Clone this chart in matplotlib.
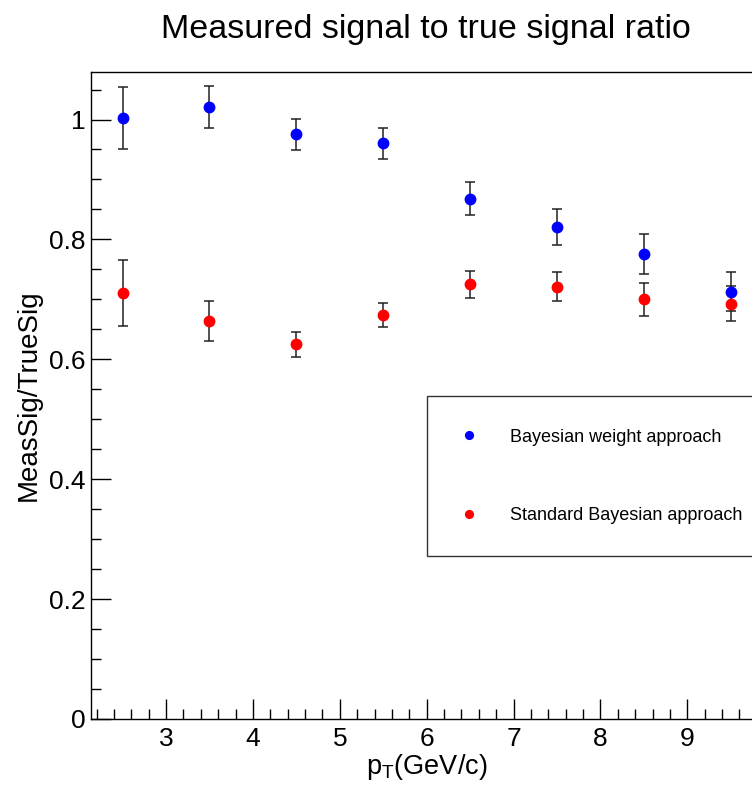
import numpy as np
import matplotlib
matplotlib.use('Agg')
import matplotlib.pyplot as plt
from matplotlib.ticker import MultipleLocator
from matplotlib.lines import Line2D

plt.rcParams['font.family'] = ['Liberation Sans', 'DejaVu Sans']
plt.rcParams['mathtext.fontset'] = 'custom'
plt.rcParams['mathtext.rm'] = 'Liberation Sans'
plt.rcParams['mathtext.it'] = 'Liberation Sans'

# pT bin centres (GeV/c)
pt = [2.5, 3.5, 4.5, 5.5, 6.5, 7.5, 8.5, 9.5]

# measured / true signal ratio for the two PID approaches
weight_ratio = [1.003, 1.021, 0.975, 0.960, 0.868, 0.821, 0.776, 0.713]
weight_err = [0.052, 0.035, 0.026, 0.026, 0.028, 0.030, 0.033, 0.033]

std_ratio = [0.711, 0.664, 0.625, 0.674, 0.725, 0.721, 0.700, 0.693]
std_err = [0.055, 0.034, 0.021, 0.020, 0.023, 0.024, 0.027, 0.029]

fig = plt.figure(figsize=(7.52, 7.85), dpi=100)
ax = fig.add_axes([0.1214, 0.0841, 0.892, 0.824])

ax.errorbar(pt, weight_ratio, yerr=weight_err, fmt='o', color='#0000ff',
            ecolor='#222222', elinewidth=1.1, capsize=3.5, capthick=1.1,
            markersize=7.5)
ax.errorbar(pt, std_ratio, yerr=std_err, fmt='o', color='#ff0000',
            ecolor='#222222', elinewidth=1.1, capsize=3.5, capthick=1.1,
            markersize=7.5)

ax.set_xlim(2.14, 9.86)
ax.set_ylim(0, 1.079)

ax.xaxis.set_major_locator(MultipleLocator(1))
ax.xaxis.set_minor_locator(MultipleLocator(0.2))
ax.yaxis.set_major_locator(MultipleLocator(0.2))
ax.yaxis.set_minor_locator(MultipleLocator(0.05))
ax.yaxis.set_major_formatter(plt.FuncFormatter(lambda v, p: '%g' % round(v, 2)))

ax.tick_params(which='both', direction='in', top=False, right=False, width=1)
ax.tick_params(which='major', length=14.4, labelsize=19)
ax.tick_params(which='minor', length=7.5)
ax.tick_params(axis='x', which='major', pad=6)
ax.tick_params(axis='y', which='major', pad=4)
for s in ax.spines.values():
    s.set_linewidth(1.0)

ax.set_xlabel(r'p$_{\mathrm{T}}$(GeV/c)', fontsize=19.5)
ax.set_ylabel('MeasSig/TrueSig', fontsize=20)
ax.xaxis.set_label_coords(0.5, -0.051)
ax.yaxis.set_label_coords(-0.074, 0.5)

fig.text(426 / 752, 1 - 38 / 785, 'Measured signal to true signal ratio',
         ha='center', va='baseline', fontsize=24.5)

# legend entries show the markers only
handles = [Line2D([], [], ls='none', marker='o', color='#0000ff', markersize=5.6),
           Line2D([], [], ls='none', marker='o', color='#ff0000', markersize=5.6)]
labels = ['Bayesian weight approach', 'Standard Bayesian approach']
leg = ax.legend(handles, labels, loc='upper left',
                bbox_to_anchor=(0.5005, 0.2992, 0.4995, 0.2),
                mode='expand', fontsize=13, frameon=True, fancybox=False,
                framealpha=1, borderpad=1.8, labelspacing=3.4, handlelength=1.0,
                handletextpad=1.8, borderaxespad=0)
leg.get_frame().set_edgecolor('#333333')
leg.get_frame().set_linewidth(1.0)

fig.savefig('out.png', dpi=100)
